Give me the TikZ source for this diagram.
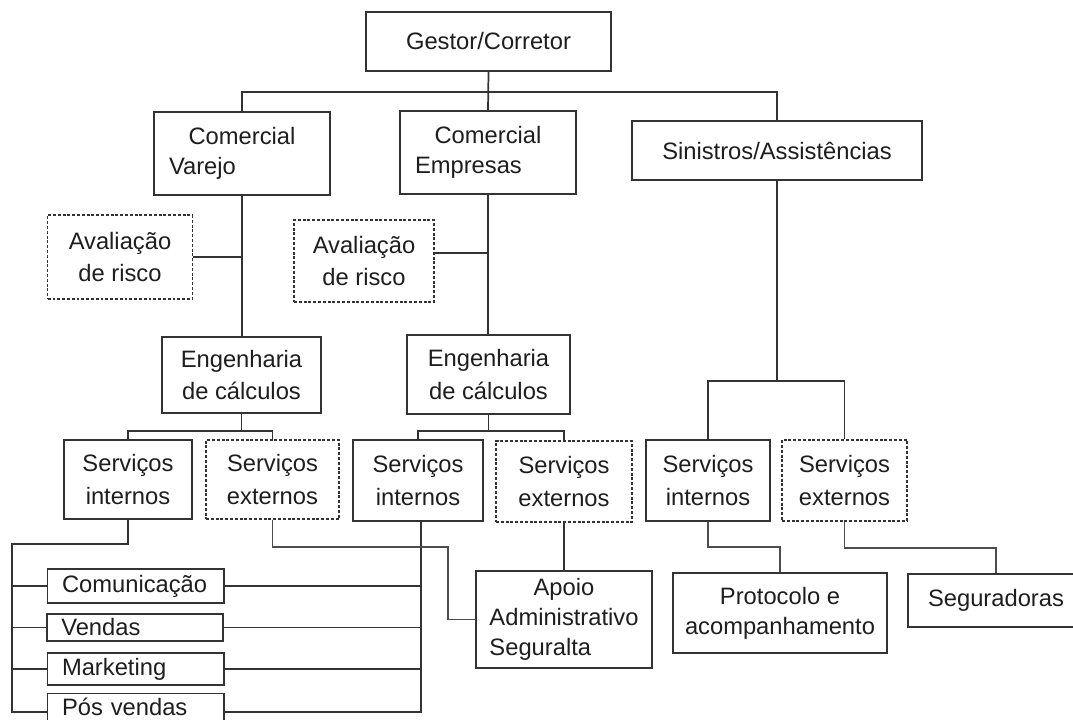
\documentclass[tikz,border=0pt]{standalone}
\usepackage{fontspec}
\setmainfont{Liberation Sans}
\definecolor{ln}{HTML}{333333}
\definecolor{lnsoft}{HTML}{4D4D4D}
\definecolor{txt}{HTML}{1E1E1E}
\begin{document}
\begin{tikzpicture}[x=0.75pt,y=-0.75pt,
  every node/.style={font=\fontsize{17.8pt}{24.3pt}\selectfont, text=txt},
  tight/.style={font=\fontsize{17.8pt}{22.5pt}\selectfont},
  sz/.style 2 args={minimum width=#1*0.75pt, minimum height=#2*0.75pt},
  unit/.style={draw=ln, line width=1.3pt, fill=white, inner sep=0pt, align=center},
  extunit/.style={unit, line width=1pt, dash pattern=on 2.2pt off 1.4pt},
  leadunit/.style={draw=ln, line width=1.3pt, fill=white, inner ysep=0pt,
    inner xsep=11.25pt, text width=109.5pt, align=left, tight},
  item/.style={draw=ln, line width=1.3pt, fill=white, inner ysep=0pt,
    inner xsep=10.9pt, text width=110.6pt, align=left},
  link/.style={draw=ln, line width=1.3pt},
  softlink/.style={draw=lnsoft, line width=1.3pt}
]
\useasboundingbox (0,0) rectangle (1073,720);
\clip (0,0) rectangle (1073,720);
\fill[white] (0,0) rectangle (1073,720);

% top level
\node[unit, sz={245}{59}] (gestor) at (488.5,41.5) {Gestor/Corretor};

% departments
\node[leadunit, sz={176}{83}] (varejo) at (242,153.5) {\hfill Comercial\hfill\null\\Varejo};
\node[leadunit, sz={176}{83}] (empresas) at (488,152.5) {\hfill Comercial\hfill\null\\Empresas};
\node[unit, sz={290}{59}] (sinistros) at (777,150.5) {Sinistros/Assistências};

% risk assessment (outsourced)
\node[extunit, sz={144.5}{84}] (aval1) at (120,257) {Avaliação\\de risco};
\node[extunit, sz={140}{82}] (aval2) at (364,261) {Avaliação\\de risco};

% calculation engineering
\node[unit, sz={159}{76}] (eng1) at (241.5,375) {Engenharia\\de cálculos};
\node[unit, sz={163}{79}] (eng2) at (488.5,374.5) {Engenharia\\de cálculos};

% internal / external services
\node[unit, sz={128}{79}] (si1) at (128,479.5) {Serviços\\internos};
\node[extunit, sz={133}{79}] (se1) at (272.5,479.5) {Serviços\\externos};
\node[unit, sz={130}{81}] (si2) at (418,480.5) {Serviços\\internos};
\node[extunit, sz={136}{81}] (se2) at (564,481.5) {Serviços\\externos};
\node[unit, sz={124}{81}] (si3) at (708,480.5) {Serviços\\internos};
\node[extunit, sz={125}{81}] (se3) at (844.5,480.5) {Serviços\\externos};

% internal teams
\node[item, sz={176.5}{34}] (com) at (135.75,586) {Comunicação};
\node[item, sz={175}{27}] (ven) at (135,627.5) {Vendas};
\node[item, sz={176.5}{32}] (mkt) at (135.75,669) {Marketing};
\node[item, sz={176.5}{30}] (pos) at (135.75,708.5) {\raisebox{2.8pt}{Pós vendas}};

% support units
\node[unit, tight, sz={176}{97}] (apoio) at (564,619.5)
  {\begin{tabular}{@{}l@{}}\multicolumn{1}{@{}c@{}}{Apoio}\\Administrativo\\Seguralta\end{tabular}};
\node[unit, tight, sz={214}{80}] (proto) at (780,613) {Protocolo e\\acompanhamento};
\node[unit, sz={176}{53}] (segur) at (996,600.5) {Seguradoras};

% junction points
\coordinate (bus) at (488,92);
\coordinate (b1) at (242,431);
\coordinate (b2) at (488,431);
\coordinate (b3) at (777,381);
\coordinate (rail) at (12,544);
\coordinate (k1) at (448,547);
\coordinate (a2c) at ([yshift=6pt]aval2.east);
\coordinate (posw) at ([yshift=-2.6pt]pos.west);
\coordinate (pose) at ([yshift=-2.6pt]pos.east);
\coordinate (rail2) at ([xshift=2.25pt]si2.south);

% management tree
\draw[link] (gestor.south) -- (empresas.north);
\draw[link] (varejo.north) |- (bus) -| (sinistros.north);

\draw[link] (varejo.south) -- (varejo.south |- eng1.north);
\draw[link] (aval1.east) -- (aval1.east -| varejo.south);
\draw[link] (empresas.south) -- (empresas.south |- eng2.north);
\draw[link] (a2c) -- (a2c -| empresas.south);

\draw[link] (eng1.south) -- (eng1.south |- b1);
\draw[link] (si1.north) |- (b1) -| (se1.north);
\draw[link] (eng2.south) -- (eng2.south |- b2);
\draw[link] (si2.north) |- (b2) -| (se2.north);
\draw[link] (sinistros.south) -- (sinistros.south |- b3);
\draw[link] (si3.north) |- (b3) -| (se3.north);

% internal teams rails
\draw[link] (si1.south) |- (rail) |- (posw);
\draw[link] (rail |- com.west) -- (com.west);
\draw[link] (rail |- ven.west) -- (ven.west);
\draw[link] (rail |- mkt.west) -- (mkt.west);
\draw[link] (rail2) |- (pose);
\draw[link] (com.east) -- (com.east -| rail2);
\draw[link] (ven.east) -- (ven.east -| rail2);
\draw[link] (mkt.east) -- (mkt.east -| rail2);

% support links
\draw[softlink] (se1.south) |- (k1) |- (apoio.west);
\draw[link] (se2.south) -- (apoio.north);
\draw[softlink] (si3.south) -- ++(0,25) -| (proto.north);
\draw[softlink] (se3.south) -- ++(0,26.5) -| (segur.north);
\end{tikzpicture}
\end{document}
